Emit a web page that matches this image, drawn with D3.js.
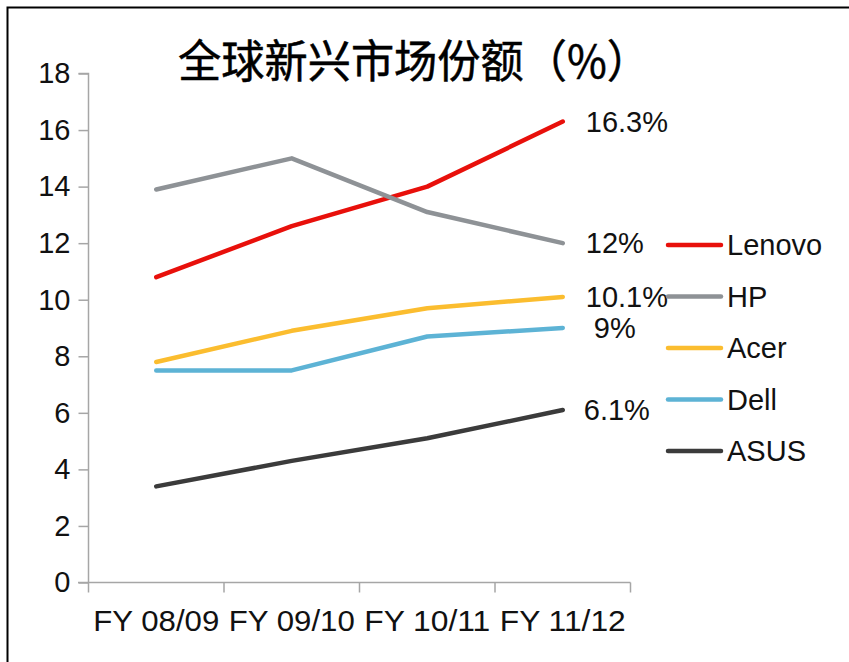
<!DOCTYPE html>
<html>
<head>
<meta charset="utf-8">
<script src="https://cdn.jsdelivr.net/npm/d3@7"></script>
<style>
  body { margin: 0; background: #fff; }
  svg { display: block; }
</style>
</head>
<body>
<svg id="chart"></svg>
<script>
const w = 849;
const h = 662;

const categories = ["FY 08/09", "FY 09/10", "FY 10/11", "FY 11/12"];
const brands = ["Lenovo", "HP", "Acer", "Dell", "ASUS"];
const lenovo = [10.8, 12.6, 14.0, 16.3];
const hp = [13.9, 15.0, 13.1, 12.0];
const acer = [7.8, 8.9, 9.7, 10.1];
const dell = [7.5, 7.5, 8.7, 9.0];
const asus = [3.4, 4.3, 5.1, 6.1];
const endLabels = ["16.3%", "12%", "10.1%", "9%", "6.1%"];
const yTicks = [0, 2, 4, 6, 8, 10, 12, 14, 16, 18];
const colors = ["#e8100b", "#8e9296", "#fbbd2f", "#5db3d5", "#3b3b3b"];

const series = [lenovo, hp, acer, dell, asus];

const svg = d3.select("#chart").attr("width", w).attr("height", h);

// frame
svg.append("path")
  .attr("d", "M7.5," + h + " V7.5 H" + w)
  .attr("fill", "none").attr("stroke", "#000").attr("stroke-width", 2);

const x = d3.scaleBand().domain(categories).range([88.5, 630.5]);
const y = d3.scaleLinear().domain([0, 18]).range([582.5, 73.5]);

const font = "'Liberation Sans', Arial, sans-serif";

// y axis
const yAxis = svg.append("g").attr("transform", "translate(88.5,0)")
  .call(d3.axisLeft(y).tickValues(yTicks).tickSize(10).tickPadding(8).tickFormat(d3.format("d")));
yAxis.select(".domain").attr("stroke", "#a6a6a6").attr("stroke-width", 1.5).attr("d", "M-10," + y(18) + "H0V" + y(0));
yAxis.selectAll(".tick line").attr("stroke", "#a6a6a6").attr("stroke-width", 1.5);
yAxis.selectAll(".tick text").attr("font-family", font).attr("font-size", 29).attr("fill", "#111");

// x axis, ticks between categories
const xg = svg.append("g").attr("transform", "translate(0," + y(0) + ")");
xg.append("line").attr("x1", 78).attr("x2", x.range()[1])
  .attr("stroke", "#a6a6a6").attr("stroke-width", 1.5);
const bounds = categories.map(c => x(c)).concat([x.range()[1]]);
xg.selectAll(".xt").data(bounds).join("line")
  .attr("x1", d => d).attr("x2", d => d).attr("y1", 0).attr("y2", 10)
  .attr("stroke", "#a6a6a6").attr("stroke-width", 1.5);
xg.selectAll(".xl").data(categories).join("text")
  .attr("x", d => x(d) + x.bandwidth() / 2)
  .attr("y", 48)
  .attr("text-anchor", "middle")
  .attr("font-family", font).attr("font-size", 29).attr("fill", "#111")
  .attr("textLength", 126).attr("lengthAdjust", "spacingAndGlyphs")
  .text(d => d);

// lines
const line = d3.line()
  .x((d, i) => x(categories[i]) + x.bandwidth() / 2)
  .y(d => y(d));

svg.selectAll(".series").data(series).join("path")
  .attr("d", line)
  .attr("fill", "none")
  .attr("stroke", (d, i) => colors[i])
  .attr("stroke-width", 4.5)
  .attr("stroke-linecap", "round")
  .attr("stroke-linejoin", "round");

// end labels
const labelDx = [23, 23, 23, 31, 21];
svg.selectAll(".endlab").data(series).join("text")
  .attr("x", (d, i) => x(categories[3]) + x.bandwidth() / 2 + labelDx[i])
  .attr("y", d => y(d[3]))
  .attr("dy", "0.35em")
  .attr("font-family", font).attr("font-size", 29).attr("fill", "#111")
  .text((d, i) => endLabels[i]);

// legend
const legend = svg.append("g");
const ly = d3.scalePoint().domain(brands).range([245, 451]);
legend.selectAll("line").data(brands).join("line")
  .attr("x1", 668).attr("x2", 721)
  .attr("y1", d => ly(d)).attr("y2", d => ly(d))
  .attr("stroke", (d, i) => colors[i]).attr("stroke-width", 4.5)
  .attr("stroke-linecap", "round");
legend.selectAll("text").data(brands).join("text")
  .attr("x", 727).attr("y", d => ly(d)).attr("dy", "0.35em")
  .attr("font-family", font).attr("font-size", 29).attr("fill", "#111")
  .text(d => d);

// title
svg.append("text")
  .attr("x", 178).attr("y", 62).attr("dy", "0.36em")
  .attr("font-family", "'Noto Sans CJK SC', sans-serif")
  .attr("font-size", 45).attr("fill", "#000")
  .attr("stroke", "#000").attr("stroke-width", 0.5)
  .attr("textLength", 472).attr("lengthAdjust", "spacingAndGlyphs")
  .text("全球新兴市场份额（%）");
</script>
</body>
</html>
